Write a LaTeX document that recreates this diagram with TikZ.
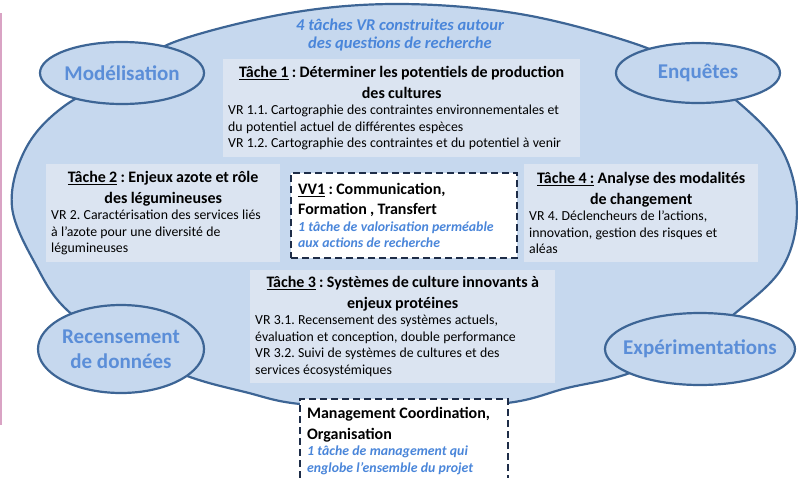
\documentclass[tikz,border=0pt]{standalone}
\usepackage{fontspec}
\setmainfont{Carlito}
\usepackage{xcolor}
\usepackage{tikz}
\usetikzlibrary{shapes.geometric}

\definecolor{blobfill}{HTML}{C6D8EE}
\definecolor{blobline}{HTML}{3D6595}
\definecolor{boxfill}{HTML}{DBE4F1}
\definecolor{labelblue}{HTML}{5B8ED8}
\definecolor{noteblue}{HTML}{4A86DA}
\definecolor{dashnavy}{HTML}{1E2D48}
\definecolor{edgepink}{HTML}{D9A3C4}

\newcommand{\headfont}{\fontsize{16}{20.5}\selectfont\bfseries}
\newcommand{\bodyfont}{\fontsize{13.8}{16.5}\selectfont}
\newcommand{\notefont}{\fontsize{13.8}{16.5}\selectfont\bfseries\itshape\color{noteblue}}
\frenchspacing

\begin{document}
\begin{tikzpicture}[x=1pt, y=-1pt,
  bubble/.style={ellipse, draw=blobline, fill=blobfill, line width=2.2pt, inner sep=0pt},
  bubbletext/.style={text=labelblue, font=\fontsize{21}{25}\selectfont\bfseries, align=center},
  taskbox/.style={rectangle, fill=boxfill, anchor=north west, inner xsep=5pt, inner ysep=3pt, align=left},
  sidebox/.style={rectangle, draw=dashnavy, fill=white, line width=2.2pt, dash pattern=on 7pt off 4pt,
    anchor=north west, inner xsep=7pt, inner ysep=3pt, align=left}]
\useasboundingbox (0,0) rectangle (798,477);
\clip (0,0) rectangle (798,477);

\draw[edgepink, line width=1.5pt] (0.75,13) -- (0.75,425);

% le grand nuage
\draw[blobline, fill=blobfill, line width=2.2pt] plot[smooth cycle, tension=0.6] coordinates {
  (177,41) (290,13) (400,4) (520,14) (633,43) (690,70) (738,102) (782,150) (797,210)
  (782,268) (733,315) (690,345) (627,374) (567,388) (507,403) (400,408) (300,404)
  (245,392) (190,377) (125,350) (67,310) (37,267) (12,207) (25,150) (63,107) (130,70)};

\node[font=\fontsize{16.5}{18}\selectfont\bfseries\itshape, text=noteblue, align=center] (titre) at (400,35)
  {4 tâches VR construites autour\\des questions de recherche\par};

% les taches
\node[taskbox, text width=347pt, minimum height=98pt] (t1) at (223,59)
  {{\centering\headfont\underline{Tâche 1} : Déterminer les potentiels de production\\des cultures\par}
   \bodyfont VR 1.1. Cartographie des contraintes environnementales et\\
   du potentiel actuel de différentes espèces\\
   VR 1.2. Cartographie des contraintes et du potentiel à venir\par};
\node[taskbox, text width=224pt, minimum height=98pt] (t2) at (46,164)
  {{\centering\headfont\underline{Tâche 2} : Enjeux azote et rôle\\des légumineuses\par}
   \bodyfont VR 2. Caractérisation des services liés\\
   à l’azote pour une diversité de\\
   légumineuses\par};
\node[taskbox, text width=224pt, minimum height=98pt] (t4) at (524,164)
  {{\centering\headfont\underline{Tâche 4 :} Analyse des modalités\\de changement\par}
   \bodyfont VR 4. Déclencheurs de l’actions,\\
   innovation, gestion des risques et\\
   aléas\par};
\node[taskbox, text width=295pt, minimum height=113pt] (t3) at (250,270)
  {{\centering\headfont\underline{Tâche 3} : Systèmes de culture innovants à\\enjeux protéines\par}
   \bodyfont VR 3.1. Recensement des systèmes actuels,\\
   évaluation et conception, double performance\\
   VR 3.2. Suivi de systèmes de cultures et des\\
   services écosystémiques\par};

% valorisation et management
\node[sidebox, text width=212pt, minimum height=85pt] (vv1) at (290,172)
  {{\headfont\underline{VV1} : Communication,\\Formation , Transfert\par}
   \notefont 1 tâche de valorisation perméable\\
   aux actions de recherche\par};
\node[sidebox, text width=194pt, minimum height=84pt] (mgt) at (299,398)
  {{\headfont Management Coordination,\\Organisation\par}
   \notefont 1 tâche de management qui\\
   englobe l’ensemble du projet\par};

% les quatre approches
\foreach \nom/\cx/\cy/\rx/\ry/\txt in {modelisation/122/73/82/31/Modélisation,
    enquetes/698/73/82/30/Enquêtes,
    recensement/121/349/83/44/Recensement\\de données,
    experimentations/700/349/95/36/Expérimentations}
{\node[bubble, minimum width=2*\rx, minimum height=2*\ry] (\nom) at (\cx,\cy) {};
 \node[bubbletext] (\nom-txt) at (\nom) {\txt}; }
\end{tikzpicture}
\end{document}
